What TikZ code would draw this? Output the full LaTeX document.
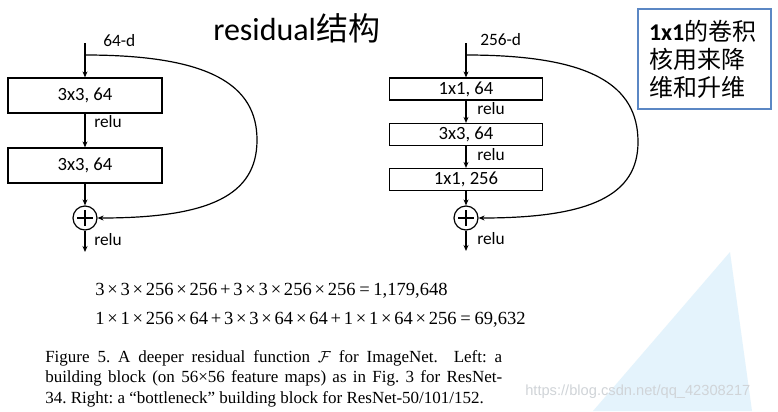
\documentclass[tikz,border=0pt]{standalone}
\usepackage{fontspec}
\setmainfont{Carlito}
\newfontfamily\cjk{Noto Sans CJK SC}
\newfontfamily\tms{Liberation Serif}
\newfontfamily\wmk{Liberation Sans}
\usetikzlibrary{arrows.meta}
\definecolor{boxblue}{RGB}{91,135,196}
\definecolor{triblue}{RGB}{228,243,252}
\definecolor{wmgray}{RGB}{208,212,216}
\newcommand\mul{\hspace{0.15em}×\hspace{0.15em}}
\newcommand\pls{\hspace{0.15em}+\hspace{0.15em}}
\newcommand\eqs{\hspace{0.2em}=\hspace{0.2em}}
\begin{document}
\begin{tikzpicture}[x=0.75pt,y=-0.75pt,
  every node/.style={inner sep=0pt},
  blk/.style={draw,line width=0.9pt,font=\fontsize{14}{16}\selectfont},
  lbl/.style={anchor=west,font=\fontsize{13}{15}\selectfont},
  sum/.style={draw,circle,line width=0.9pt,minimum size=18pt,
    path picture={\draw[line width=0.9pt] ([xshift=-6pt]path picture bounding box.center) -- ([xshift=6pt]path picture bounding box.center)
      ([yshift=-6pt]path picture bounding box.center) -- ([yshift=6pt]path picture bounding box.center);}},
  flow/.style={-{Stealth[length=4.5pt,width=3.75pt]},line width=0.9pt}]
\fill[white] (0,0) rectangle (778,411);
\useasboundingbox (0,0) rectangle (778,411);
\fill[triblue] (730,252) -- (593,411) -- (752,411) -- cycle;
\node[anchor=west,font=\fontsize{24}{28}\selectfont] (ttl) at (213,28) {residual{\cjk 结构}};
% left: building block
\coordinate (ain) at (85,43);
\coordinate (ask) at (85,55);
\coordinate (aout) at (85,252);
\node[lbl] (ad) at (103,41) {64-d};
\node[blk,minimum width=115.5pt,minimum height=26.25pt] (a1) at (85,95.5) {3x3, 64};
\node[blk,minimum width=115.5pt,minimum height=26.25pt] (a2) at (85,165.5) {3x3, 64};
\node[sum] (as) at (85,218) {};
\node[lbl] (ar1) at (94,122) {relu};
\node[lbl] (ar2) at (94,240) {relu};
\draw[flow] (ain) -- (a1);
\draw[flow] (a1) -- (a2);
\draw[flow] (a2) -- (as);
\draw[flow] (as) -- (aout);
\draw[flow] (ask) .. controls (210,55) and (257,85) .. (257,140) .. controls (257,195) and (210,218) .. (as);
% right: bottleneck block
\coordinate (bin) at (466,43);
\coordinate (bsk) at (466,55);
\coordinate (bout) at (466,251);
\node[lbl] (bd) at (480,40) {256-d};
\node[blk,minimum width=114.75pt,minimum height=16.5pt] (b1) at (466,89) {1x1, 64};
\node[blk,minimum width=114.75pt,minimum height=16.5pt] (b2) at (466,134.5) {3x3, 64};
\node[blk,minimum width=114.75pt,minimum height=16.5pt] (b3) at (466,179.5) {1x1, 256};
\node[sum] (bs) at (466,218) {};
\node[lbl] (br1) at (477,109) {relu};
\node[lbl] (br2) at (477,155) {relu};
\node[lbl] (br3) at (477,239) {relu};
\draw[flow] (bin) -- (b1);
\draw[flow] (b1) -- (b2);
\draw[flow] (b2) -- (b3);
\draw[flow] (b3) -- (bs);
\draw[flow] (bs) -- (bout);
\draw[flow] (bsk) .. controls (591,55) and (638,85) .. (638,142) .. controls (638,195) and (591,218) .. (bs);
% note
\node[draw=boxblue,line width=1.5pt,minimum width=99.75pt,minimum height=75pt,inner xsep=8.25pt,
  text width=83.25pt,align=left,font=\fontsize{18}{21}\selectfont] (note) at (704.5,59)
  {{\bfseries 1x1}{\cjk 的卷积}\\{\cjk 核用来降}\\{\cjk 维和升维}};
% formulas and caption
\node[anchor=west,font=\tms\fontsize{13.9}{16}\selectfont] (f1) at (95,291)
  {3\mul3\mul256\mul256\pls3\mul3\mul256\mul256\eqs1,179,648};
\node[anchor=west,font=\tms\fontsize{13.9}{16}\selectfont] (f2) at (95,320)
  {1\mul1\mul256\mul64\pls3\mul3\mul64\mul64\pls1\mul1\mul64\mul256\eqs69,632};
\node[anchor=north west,text width=342.75pt,align=justify,font=\tms\fontsize{12.75}{15.4}\selectfont\frenchspacing] (cap) at (45,350)
  {Figure 5. A deeper residual function $\mathcal{F}$ for ImageNet.\ \ Left:\ a\linebreak
   building block (on 56×56 feature maps) as in Fig. 3 for ResNet-\linebreak
   34. Right: a “bottleneck” building block for ResNet-50/101/152.};
\node[anchor=west,font=\wmk\fontsize{11}{13}\selectfont,text=wmgray] (wm) at (525,392) {https://blog.csdn.net/qq\_42308217};
\end{tikzpicture}
\end{document}
